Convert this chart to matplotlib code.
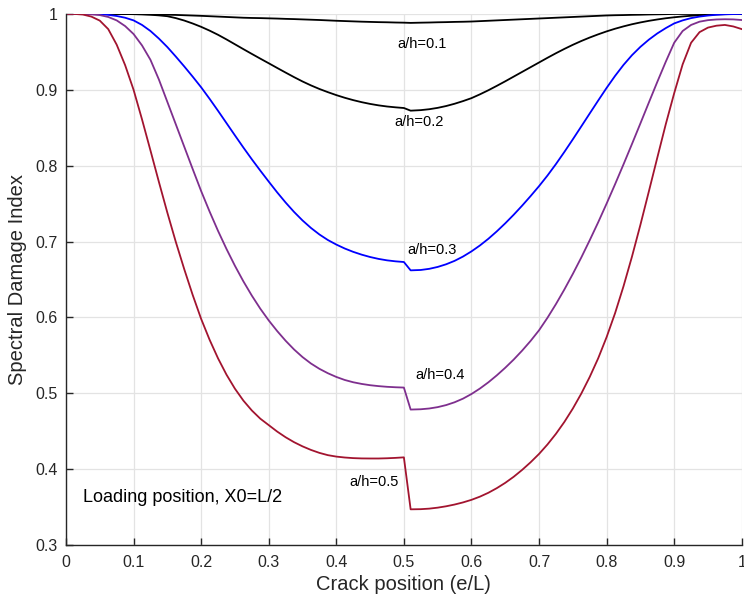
import matplotlib
matplotlib.use("Agg")
import matplotlib.pyplot as plt

# crack position e/L, read at the same points for every curve
# (the step between 0.50 and 0.51 is the jump at the loading point)
pos = [0, 0.0125, 0.025, 0.0375, 0.05, 0.0625, 0.075, 0.0875, 0.1, 0.1125, 0.125,
       0.1375, 0.15, 0.1625, 0.175, 0.1875, 0.2, 0.2125, 0.225, 0.2375, 0.25, 0.2625,
       0.275, 0.2875, 0.3, 0.3125, 0.325, 0.3375, 0.35, 0.3625, 0.375, 0.3875, 0.4,
       0.4125, 0.425, 0.4375, 0.45, 0.4625, 0.475, 0.4875, 0.5,
       0.51, 0.525, 0.5375, 0.55, 0.5625, 0.575, 0.5875, 0.6, 0.6125, 0.625, 0.6375,
       0.65, 0.6625, 0.675, 0.6875, 0.7, 0.7125, 0.725, 0.7375, 0.75, 0.7625, 0.775,
       0.7875, 0.8, 0.8125, 0.825, 0.8375, 0.85, 0.8625, 0.875, 0.8875, 0.9, 0.9125,
       0.925, 0.9375, 0.95, 0.9625, 0.975, 0.9875, 1.0]

# spectral damage index, one list per crack depth ratio a/h
sdi_01 = [1, 1, 1, 1, 1, 1, 1, .9999, .9998, .9997, .9995, .9993, .999, .9987, .9983,
          .9979, .9975, .997, .9965, .996, .9955, .995, .9947, .9945, .9942, .9939,
          .9935, .9932, .9928, .9924, .992, .9915, .991, .9906, .9902, .9898, .9895,
          .9892, .989, .9887, .9885,
          .9882, .9885, .9887, .989, .9892, .9895, .9897, .99, .9905, .991, .9915, .992,
          .9925, .993, .9935, .994, .9945, .995, .9955, .996, .9965, .997, .9975, .998,
          .9983, .9985, .9988, .999, .9993, .9995, .9997, 1, 1, 1, 1, 1, 1, 1, 1, 1]
sdi_02 = [1, 1, 1, 1, 1, 1, 1, .9999, .9997, .9994, .9989, .9981, .997, .9945, .9913,
          .9874, .983, .978, .9725, .9664, .96, .9536, .9473, .9411, .935, .9288,
          .9227, .9167, .911, .9058, .9011, .8969, .893, .8895, .8864, .8837, .8814,
          .8795, .878, .8769, .876,
          .8725, .8732, .8744, .8762, .8786, .8816, .8851, .889, .894, .8994, .9052,
          .9112, .9174, .9236, .9298, .936, .9422, .9482, .9539, .9593, .9643, .9689,
          .9731, .977, .9805, .9836, .9864, .9888, .9909, .9927, .9943, .9956, .9967,
          .9976, .9983, .9989, .9994, .9997, .9999, 1]
sdi_03 = [1, 1, 1, .9999, .9996, .9988, .9973, .995, .9915, .9855, .9775, .9675, .9563,
          .9438, .9308, .9173, .9033, .8881, .8723, .8561, .8399, .8239, .8084, .7935,
          .779, .7648, .7514, .739, .7278, .7179, .7093, .702, .696, .6908, .6864,
          .6827, .6796, .6771, .6752, .6739, .673,
          .662, .6625, .664, .6665, .670, .6745, .6802, .687, .6948, .7036, .7134, .724,
          .7353, .7473, .7599, .773, .787, .8021, .8181, .8347, .8517, .8688, .8858,
          .9025, .9183, .9328, .9456, .9566, .9661, .9743, .9813, .9875, .9915, .9945,
          .9965, .9979, .9989, .9995, .9998, 1]
sdi_04 = [1, 1, .9998, .9994, .9985, .996, .9915, .984, .9735, .9585, .9395, .9135, .884,
          .8545, .825, .7955, .7665, .7395, .714, .6902, .668, .6475, .6287, .6115, .596,
          .582, .5692, .5577, .5477, .5392, .5322, .5264, .5215, .5175, .5145, .5123,
          .5106, .5094, .5085, .5079, .5075,
          .4785, .4789, .4799, .4817, .4844, .4881, .4929, .499, .5062, .5144, .5236,
          .5336, .5444, .5562, .569, .583, .5995, .6175, .6368, .6573, .6789, .7017,
          .7253, .75, .7755, .8017, .8285, .8557, .8832, .9104, .9369, .962, .9775,
          .9855, .9898, .9918, .9927, .993, .9928, .992]
sdi_05 = [1, 1, .9992, .9965, .9912, .98, .9595, .9325, .9, .861, .82, .7785, .738,
          .6995, .6635, .6295, .598, .5705, .546, .5245, .506, .4903, .4773, .4665, .458,
          .4495, .442, .4355, .43, .4253, .4214, .4184, .4165, .4153, .4145, .4141, .414,
          .414, .4143, .4148, .4155,
          .347, .3472, .3479, .3492, .351, .3533, .3561, .3595, .3637, .3688, .3749,
          .3819, .3899, .399, .409, .42, .4325, .4465, .4622, .4798, .4995, .5215, .546,
          .574, .6055, .641, .68, .722, .766, .8105, .8545, .8955, .9335, .962, .976,
          .982, .9845, .9855, .9835, .98]

series = [sdi_01, sdi_02, sdi_03, sdi_04, sdi_05]
colors = ["#000000", "#000000", "#0000ff", "#7e2f8e", "#a2142f"]
labels = ["a/h=0.1", "a/h=0.2", "a/h=0.3", "a/h=0.4", "a/h=0.5"]
label_xy = [(0.527, 0.961), (0.522, 0.858), (0.541, 0.689), (0.553, 0.524), (0.456, 0.383)]

plt.rcParams["font.family"] = ["Liberation Sans", "DejaVu Sans"]

fig = plt.figure(figsize=(7.44, 6.06), dpi=100)
ax = fig.add_axes([0.0887, 0.1007, 0.9083, 0.8763])

for ys, c in zip(series, colors):
    ax.plot(pos, ys, color=c, lw=1.3, solid_joinstyle="round")

for txt, (tx, ty) in zip(labels, label_xy):
    ax.text(tx, ty, txt, fontsize=10.5, ha="center", va="center", color="#000000")

ax.text(0.025, 0.363, "Loading position, X0=L/2", fontsize=13, ha="left", va="center")

ax.set_xlim(0, 1)
ax.set_ylim(0.3, 1)
ax.set_xticks([0, 0.1, 0.2, 0.3, 0.4, 0.5, 0.6, 0.7, 0.8, 0.9, 1])
ax.set_xticklabels(["0", "0.1", "0.2", "0.3", "0.4", "0.5", "0.6", "0.7", "0.8", "0.9", "1"])
ax.set_yticks([0.3, 0.4, 0.5, 0.6, 0.7, 0.8, 0.9, 1])
ax.set_yticklabels(["0.3", "0.4", "0.5", "0.6", "0.7", "0.8", "0.9", "1"])
ax.grid(True, color="#e3e3e3", lw=0.9)
ax.set_axisbelow(True)
ax.spines["top"].set_visible(False)
ax.spines["right"].set_visible(False)
for s in ["left", "bottom"]:
    ax.spines[s].set_color("#262626")
    ax.spines[s].set_linewidth(1.0)
ax.tick_params(direction="in", length=5, width=1, color="#262626",
               labelsize=11.5, labelcolor="#262626")
ax.tick_params(axis="x", pad=7)
ax.tick_params(axis="y", pad=6)
ax.set_xlabel("Crack position (e/L)", fontsize=14.5, color="#262626", labelpad=4)
ax.set_ylabel("Spectral Damage Index", fontsize=14.5, color="#262626", labelpad=6)

fig.savefig("out.png", dpi=100)
